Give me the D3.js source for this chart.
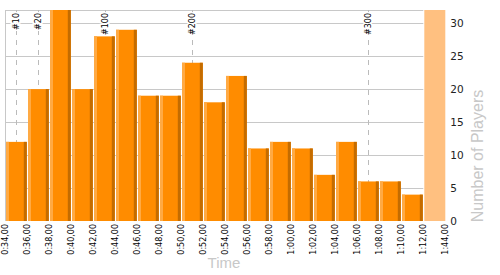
<!DOCTYPE html>
<html>
  <head>
    <meta charset="UTF-8">
    <title>Finish times histogram</title>
    <script src="https://d3js.org/d3.v7.min.js"></script>
    <style>
      body { margin: 0; background: #fff; }
      svg { font-family: "DejaVu Sans", Verdana, sans-serif; }
      .tick-label { font-size: 8px; fill: #000; }
      .axis-title { font-family: "Liberation Sans", Arial, sans-serif; fill: #c8c8c8; }
    </style>
  </head>
  <body>
    <div id="chart"></div>
    <script>
      // bin start labels (2 minute bins, last one is the open "rest" bin)
      const binLabels = ["0:34,00", "0:36,00", "0:38,00", "0:40,00", "0:42,00", "0:44,00",
        "0:46,00", "0:48,00", "0:50,00", "0:52,00", "0:54,00", "0:56,00", "0:58,00",
        "1:00,00", "1:02,00", "1:04,00", "1:06,00", "1:08,00", "1:10,00", "1:12,00", "1:44,00"];
      // players per bin
      const counts = [12, 20, 32, 20, 28, 29, 19, 19, 24, 18, 22, 11, 12, 11, 7, 12, 6, 6, 4];
      // rank markers and the finish time (minutes) they sit at
      const markerNames = ["#10", "#20", "#100", "#200", "#300"];
      const markerMinutes = [35, 37, 43.07, 51, 67];
      const yTicks = [0, 5, 10, 15, 20, 25, 30];

      const width = 500, height = 275;
      const plotLeft = 5.3, plotRight = 445.3, plotTop = 10, plotBottom = 221;

      const svg = d3.select("#chart")
        .append("svg")
        .attr("width", width)
        .attr("height", height);

      // scales
      const x = d3.scaleLinear().domain([0, binLabels.length - 1]).range([plotLeft, plotRight]);
      const step = x(1) - x(0);
      const minutes = d3.scaleLinear().domain([34, 72]).range([x(0), x(19)]);
      const y = d3.scaleLinear().domain([0, 32]).range([plotBottom, plotTop]);

      svg.append("defs").append("clipPath")
        .attr("id", "plot-clip")
        .append("rect")
        .attr("x", plotLeft).attr("y", plotTop)
        .attr("width", plotRight - plotLeft).attr("height", plotBottom - plotTop);

      // gridlines
      svg.append("g")
        .selectAll("line")
        .data(yTicks.filter(d => d > 0))
        .enter()
        .append("line")
        .attr("x1", plotLeft)
        .attr("x2", x(19))
        .attr("y1", d => Math.round(y(d)) + 0.5)
        .attr("y2", d => Math.round(y(d)) + 0.5)
        .attr("stroke", "#c8c8c8");

      // plot frame (top and left)
      svg.append("line")
        .attr("x1", plotLeft).attr("x2", x(19))
        .attr("y1", plotTop + 0.5).attr("y2", plotTop + 0.5)
        .attr("stroke", "#c8c8c8");
      svg.append("line")
        .attr("x1", 5.5).attr("x2", 5.5)
        .attr("y1", plotTop).attr("y2", plotBottom)
        .attr("stroke", "#c8c8c8");

      // rank marker lines
      svg.append("g")
        .selectAll("line")
        .data(markerMinutes)
        .enter()
        .append("line")
        .attr("x1", d => Math.round(minutes(d)) + 0.5)
        .attr("x2", d => Math.round(minutes(d)) + 0.5)
        .attr("y1", plotTop)
        .attr("y2", plotBottom)
        .attr("stroke", "#bbbbbb")
        .attr("stroke-dasharray", "5,5");

      svg.append("g")
        .selectAll("text")
        .data(markerNames)
        .enter()
        .append("text")
        .attr("class", "tick-label")
        .attr("transform", (d, i) => `translate(${minutes(markerMinutes[i])}, 13) rotate(-90)`)
        .attr("text-anchor", "end")
        .attr("dy", "0.35em")
        .attr("stroke", "#fff")
        .attr("stroke-width", 3)
        .attr("paint-order", "stroke")
        .text(d => d);

      // rest band
      svg.append("rect")
        .attr("x", x(19) + 1)
        .attr("y", plotTop)
        .attr("width", step - 1)
        .attr("height", plotBottom - plotTop)
        .attr("fill", "#ffc080");

      // bars: light left edge, main body, dark right edge
      const bars = svg.append("g")
        .attr("clip-path", "url(#plot-clip)")
        .selectAll("g")
        .data(counts)
        .enter()
        .append("g");

      const barW = step - 1.2;
      bars.append("rect")
        .attr("x", (d, i) => x(i) + 0.7)
        .attr("y", d => y(d))
        .attr("width", barW)
        .attr("height", d => plotBottom - y(d))
        .attr("fill", "#ff8c00");
      bars.append("rect")
        .attr("x", (d, i) => x(i) + 0.7)
        .attr("y", d => y(d))
        .attr("width", 3)
        .attr("height", d => plotBottom - y(d))
        .attr("fill", "#ffaa44");
      bars.append("rect")
        .attr("x", (d, i) => x(i) + 0.7 + barW - 3)
        .attr("y", d => y(d))
        .attr("width", 3)
        .attr("height", d => plotBottom - y(d))
        .attr("fill", "#c46c00");

      // x tick labels at bin edges
      svg.append("g")
        .selectAll("text")
        .data(binLabels)
        .enter()
        .append("text")
        .attr("class", "tick-label")
        .attr("transform", (d, i) => `translate(${x(i)}, 224) rotate(-90)`)
        .attr("text-anchor", "end")
        .attr("dy", "0.35em")
        .text(d => d);

      // right value axis
      const yAxis = svg.append("g")
        .attr("transform", `translate(${plotRight}, 0)`)
        .call(d3.axisRight(y).tickValues(yTicks).tickSize(0).tickPadding(5));
      yAxis.select(".domain").remove();
      yAxis.selectAll("text")
        .style("font-family", "'DejaVu Sans', Verdana, sans-serif")
        .style("font-size", "10.5px")
        .attr("fill", "#222");

      // axis titles
      svg.append("text")
        .attr("class", "axis-title")
        .attr("x", 224)
        .attr("y", 268)
        .attr("text-anchor", "middle")
        .style("font-size", "15px")
        .text("Time");

      svg.append("text")
        .attr("class", "axis-title")
        .attr("transform", "translate(483, 156) rotate(-90)")
        .attr("text-anchor", "middle")
        .style("font-size", "16px")
        .text("Number of Players");
    </script>
  </body>
</html>
